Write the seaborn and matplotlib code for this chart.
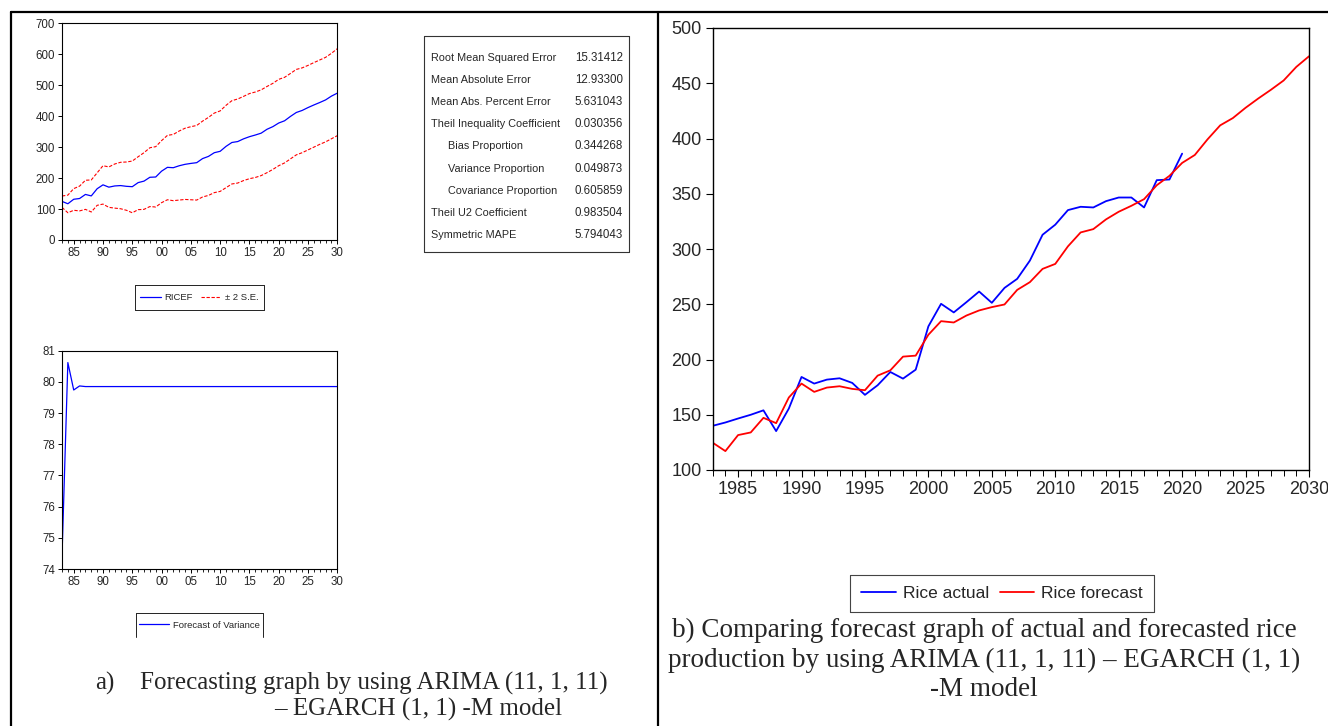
import matplotlib
matplotlib.use("Agg")
import matplotlib.pyplot as plt
from matplotlib.lines import Line2D
from matplotlib.ticker import MultipleLocator, FixedLocator
import seaborn as sns
import pandas as pd

# ---------------- data ----------------
years_all = list(range(1983, 2031))
years_actual = list(range(1983, 2021))

rice_actual = [140, 143, 146.6, 150, 154, 135.2, 155.6, 184.2, 178.2, 181.8,
               183, 178.8, 168, 176.7, 188.7, 182.7, 190.8, 230, 250.4, 242.6,
               251.9, 261.5, 251.3, 264.8, 273, 289.5, 312.9, 322, 335.2, 338.2,
               337.6, 343.3, 346.6, 346.6, 337.6, 362.3, 362.9, 386.3]

rice_forecast = [124.7, 117.1, 131.6, 134, 147.2, 142.4, 165.6, 178.2, 170.7, 174.6,
                 175.8, 173.4, 172.2, 185.4, 190.2, 202.6, 203.5, 222.4, 234.7, 233.5,
                 239.8, 244.4, 247.4, 249.8, 263, 270, 282, 286.5, 302.4, 315,
                 318, 326.8, 333.7, 339.1, 345.1, 357.7, 366.2, 377.9, 385.1, 399.2,
                 411.9, 418.5, 427.8, 436.2, 444.1, 452.5, 464.8, 474.4]

upper_2se = [142, 145, 166, 174, 193, 194, 217, 240, 236, 245.5,
             251, 252, 255, 269, 282, 298, 301.5, 321, 338, 341,
             352, 361, 366, 370, 384, 396, 410, 417, 435, 450,
             455.5, 464, 473, 478, 485, 496, 506, 519, 525.5, 538,
             551, 556, 564, 573, 581.5, 590, 603, 618]

lower_2se = [105.5, 88, 96, 94, 99, 90.5, 112, 116, 105.5, 103,
             101, 96, 88, 98, 99, 108, 106.6, 120.6, 130, 127,
             129, 131, 130, 129, 139, 144, 153, 157, 169, 181,
             184, 192, 198, 202, 208, 217.5, 228, 240, 249, 262,
             275, 282, 291, 300, 309, 317, 327, 337]

forecast_variance = [74.4, 80.62, 79.74, 79.87, 79.85, 79.85, 79.85, 79.85, 79.85, 79.85,
                     79.85, 79.85, 79.85, 79.85, 79.85, 79.85, 79.85, 79.85, 79.85, 79.85,
                     79.85, 79.85, 79.85, 79.85, 79.85, 79.85, 79.85, 79.85, 79.85, 79.85,
                     79.85, 79.85, 79.85, 79.85, 79.85, 79.85, 79.85, 79.85, 79.85, 79.85,
                     79.85, 79.85, 79.85, 79.85, 79.85, 79.85, 79.85, 79.85]

stat_labels = ["Root Mean Squared Error", "Mean Absolute Error", "Mean Abs. Percent Error",
               "Theil Inequality Coefficient", "Bias Proportion", "Variance Proportion",
               "Covariance Proportion", "Theil U2 Coefficient", "Symmetric MAPE"]
stat_values = ["15.31412", "12.93300", "5.631043", "0.030356", "0.344268",
               "0.049873", "0.605859", "0.983504", "5.794043"]
stat_indent = [False, False, False, False, True, True, True, False, False]

left_xticks = [1985, 1990, 1995, 2000, 2005, 2010, 2015, 2020, 2025, 2030]
left_xticklabels = ["85", "90", "95", "00", "05", "10", "15", "20", "25", "30"]

caption_a1 = "Forecasting graph by using ARIMA (11, 1, 11)"
caption_a2 = "– EGARCH (1, 1) -M model"
caption_b = ["b) Comparing forecast graph of actual and forecasted rice",
             "production by using ARIMA (11, 1, 11) – EGARCH (1, 1)",
             "-M model"]

# ---------------- style ----------------
sns.set_theme(style="ticks")
NARROW = ['Liberation Sans Narrow', 'Liberation Sans', 'DejaVu Sans']
SERIF = ['Liberation Serif', 'DejaVu Serif']
plt.rcParams['font.family'] = NARROW
plt.rcParams['axes.edgecolor'] = 'black'
plt.rcParams['axes.linewidth'] = 0.8

W, H = 1328, 726
fig = plt.figure(figsize=(W / 100, H / 100), dpi=100)
fig.patch.set_facecolor('white')


def rect(l, t, r, b):
    return [l / W, 1 - b / H, (r - l) / W, (b - t) / H]


def fx(x):
    return x / W


def fy(y):
    return 1 - y / H


def box_lines(l, t, r, b, sides=("top", "bottom", "left", "right"), color='black', lw=0.7):
    segs = {"top": ([l, r], [t, t]), "bottom": ([l, r], [b, b]),
            "left": ([l, l], [t, b]), "right": ([r, r], [t, b])}
    for s in sides:
        xs, ys = segs[s]
        fig.add_artist(Line2D([fx(v) for v in xs], [fy(v) for v in ys],
                              transform=fig.transFigure, color=color, lw=lw))


df_f = pd.DataFrame({"year": years_all, "forecast": rice_forecast,
                     "upper": upper_2se, "lower": lower_2se,
                     "var": forecast_variance})
df_a = pd.DataFrame({"year": years_actual, "actual": rice_actual})


def style_left(ax, fs=8.3):
    ax.set_xlim(1983, 2030)
    ax.xaxis.set_major_locator(FixedLocator(left_xticks))
    ax.set_xticklabels(left_xticklabels)
    ax.xaxis.set_minor_locator(MultipleLocator(1))
    ax.tick_params(axis='both', which='major', direction='out', length=3,
                   width=0.7, labelsize=fs, pad=2, color='black')
    ax.tick_params(axis='x', which='minor', direction='out', length=2.5,
                   width=0.6, color='black')
    ax.set_xlabel("")
    ax.set_ylabel("")
    for s in ax.spines.values():
        s.set_linewidth(0.8)
        s.set_color('black')


# ---------- top-left forecast panel ----------
ax1 = fig.add_axes(rect(62, 23.3, 337.3, 240))
sns.lineplot(data=df_f, x="year", y="forecast", ax=ax1, color=(0, 0, 1), lw=0.9)
sns.lineplot(data=df_f, x="year", y="upper", ax=ax1, color=(1, 0, 0), lw=0.8, linestyle=(0, (3, 1.5)))
sns.lineplot(data=df_f, x="year", y="lower", ax=ax1, color=(1, 0, 0), lw=0.8, linestyle=(0, (3, 1.5)))
ax1.set_ylim(0, 700)
ax1.yaxis.set_major_locator(MultipleLocator(100))
style_left(ax1)

h1 = [Line2D([], [], color=(0, 0, 1), lw=0.9),
      Line2D([], [], color=(1, 0, 0), lw=0.8, linestyle=(0, (3, 1.5)))]
leg1 = fig.legend(h1, ["RICEF", "± 2 S.E."], loc='center',
                  bbox_to_anchor=(fx(199.5), fy(297.5)), ncol=2, fontsize=6.8,
                  frameon=False, handlelength=2.2, columnspacing=0.8,
                  handletextpad=0.4, borderpad=0.4)
box_lines(135, 285, 264, 310, color='#222222')

# ---------- statistics table ----------
tab_l, tab_t, tab_r, tab_b = 424, 36, 629, 252
box_lines(tab_l, tab_t, tab_r, tab_b, color='#333333', lw=0.8)
for i, (lab, val, ind) in enumerate(zip(stat_labels, stat_values, stat_indent)):
    y = 58 + i * 22.1
    fig.text(fx(448 if ind else 431), fy(y), lab, fontsize=7.8, va='center', ha='left')
    fig.text(fx(623), fy(y), val, fontsize=8.3, va='center', ha='right')

# ---------- bottom-left variance panel ----------
ax2 = fig.add_axes(rect(62, 350.7, 337.3, 569))
sns.lineplot(data=df_f, x="year", y="var", ax=ax2, color=(0, 0, 1), lw=0.9)
ax2.set_ylim(74, 81)
ax2.yaxis.set_major_locator(MultipleLocator(1))
style_left(ax2)

h2 = [Line2D([], [], color=(0, 0, 1), lw=0.9)]
leg2 = fig.legend(h2, ["Forecast of Variance"], loc='center',
                  bbox_to_anchor=(fx(199.5), fy(625)), ncol=1, fontsize=6.8,
                  frameon=False, handlelength=3.2, handletextpad=0.4, borderpad=0.4)
box_lines(136, 613, 263, 637, sides=("top", "left", "right"), color='#222222')

# ---------- right comparison panel ----------
ax3 = fig.add_axes(rect(712.7, 28, 1309, 470))
sns.lineplot(data=df_a, x="year", y="actual", ax=ax3, color=(0, 0, 1), lw=1.3)
sns.lineplot(data=df_f, x="year", y="forecast", ax=ax3, color=(1, 0, 0), lw=1.3)
ax3.set_xlim(1983, 2030)
ax3.set_ylim(100, 500)
ax3.yaxis.set_major_locator(MultipleLocator(50))
ax3.xaxis.set_major_locator(MultipleLocator(5))
ax3.xaxis.set_minor_locator(MultipleLocator(1))
ax3.tick_params(axis='both', which='major', direction='out', length=5, width=0.8,
                labelsize=13, pad=3, color='black')
ax3.tick_params(axis='x', which='minor', direction='out', length=4, width=0.7, color='black')
ax3.set_xlabel("")
ax3.set_ylabel("")
for s in ax3.spines.values():
    s.set_linewidth(1.0)
    s.set_color('black')

h3 = [Line2D([], [], color=(0, 0, 1), lw=1.3), Line2D([], [], color=(1, 0, 0), lw=1.3)]
leg3 = fig.legend(h3, ["Rice actual", "Rice forecast"], loc='center',
                  bbox_to_anchor=(fx(1002), fy(593.5)), ncol=2, fontsize=12.5,
                  frameon=False, handlelength=2.0, columnspacing=0.6,
                  handletextpad=0.4, borderpad=0.3)
box_lines(850, 575, 1154, 612, color='#444444', lw=0.8)

# ---------- captions ----------
CAP_A = 18
CAP_B = 19.5
fig.text(fx(95), fy(683), "a)", fontsize=CAP_A, family=SERIF, va='center', ha='left')
fig.text(fx(140), fy(683), caption_a1, fontsize=CAP_A, family=SERIF, va='center', ha='left')
fig.text(fx(418), fy(709), caption_a2, fontsize=CAP_A, family=SERIF, va='center', ha='center')
for i, line in enumerate(caption_b):
    fig.text(fx(984), fy(630 + i * 30), line, fontsize=CAP_B, family=SERIF,
             va='center', ha='center')

# ---------- page table borders ----------
fig.add_artist(Line2D([fx(11), 1], [fy(12), fy(12)], transform=fig.transFigure,
                      color='black', lw=1.6))
fig.add_artist(Line2D([fx(11), fx(11)], [fy(12), 0], transform=fig.transFigure,
                      color='black', lw=1.6))
fig.add_artist(Line2D([fx(658), fx(658)], [fy(12), 0], transform=fig.transFigure,
                      color='black', lw=1.6))

fig.savefig("out.png", dpi=100, facecolor='white')
